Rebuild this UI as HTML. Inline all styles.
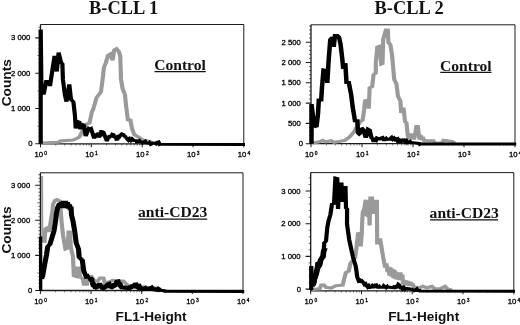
<!DOCTYPE html>
<html><head><meta charset="utf-8"><title>B-CLL flow cytometry</title>
<style>
html,body{margin:0;padding:0;background:#fff;}
svg{display:block;filter:blur(0.35px);}
.tk{font-family:"Liberation Sans",Arial,sans-serif;font-size:7.7px;fill:#000;stroke:#000;stroke-width:0.3px;}
.sup{font-size:4.9px;}
.ttl{font-family:"Liberation Serif","Times New Roman",serif;font-weight:bold;font-size:18.4px;fill:#111;}
.lab{font-family:"Liberation Serif","Times New Roman",serif;font-weight:bold;font-size:15.6px;fill:#111;}
.axl{font-family:"Liberation Sans",Arial,sans-serif;font-weight:bold;font-size:13.4px;fill:#111;}
</style></head><body>
<svg width="520" height="325" viewBox="0 0 520 325">
<rect width="520" height="325" fill="#fff"/>
<path d="M40.5 24.5H243.8V147.3" fill="none" stroke="#1c1c1c" stroke-width="1"/>
<path d="M40.5 24.5V143.8H243.8" fill="none" stroke="#1c1c1c" stroke-width="1.3"/>
<path d="M35.3 37.9H40.5M35.3 73.2H40.5M35.3 108.5H40.5M35.3 143.8H40.5" stroke="#1c1c1c" stroke-width="1.1" fill="none"/>
<path d="M38.5 140.3H40.5M38.5 136.7H40.5M38.5 133.2H40.5M38.5 129.7H40.5M37.5 126.2H40.5M38.5 122.6H40.5M38.5 119.1H40.5M38.5 115.6H40.5M38.5 112.0H40.5M38.5 105.0H40.5M38.5 101.4H40.5M38.5 97.9H40.5M38.5 94.4H40.5M37.5 90.8H40.5M38.5 87.3H40.5M38.5 83.8H40.5M38.5 80.3H40.5M38.5 76.7H40.5M38.5 69.7H40.5M38.5 66.1H40.5M38.5 62.6H40.5M38.5 59.1H40.5M37.5 55.5H40.5M38.5 52.0H40.5M38.5 48.5H40.5M38.5 45.0H40.5M38.5 41.4H40.5M38.5 34.4H40.5M38.5 30.8H40.5M38.5 27.3H40.5" stroke="#1c1c1c" stroke-width="0.8" fill="none" opacity="0.85"/>
<text class="tk" x="30.3" y="40.4" text-anchor="end">3 000</text>
<text class="tk" x="30.3" y="75.7" text-anchor="end">2 000</text>
<text class="tk" x="30.3" y="111.0" text-anchor="end">1 000</text>
<text class="tk" x="30.3" y="146.3" text-anchor="middle">0</text>
<path d="M40.5 143.8V147.3M91.3 143.8V147.3M142.2 143.8V147.3M193.0 143.8V147.3" stroke="#1c1c1c" stroke-width="1" fill="none"/>
<path d="M55.8 143.8V145.6M64.7 143.8V145.6M71.1 143.8V145.6M76.0 143.8V145.6M80.0 143.8V145.6M83.5 143.8V145.6M86.4 143.8V145.6M89.0 143.8V145.6M106.6 143.8V145.6M115.6 143.8V145.6M121.9 143.8V145.6M126.9 143.8V145.6M130.9 143.8V145.6M134.3 143.8V145.6M137.2 143.8V145.6M139.8 143.8V145.6M157.4 143.8V145.6M166.4 143.8V145.6M172.7 143.8V145.6M177.7 143.8V145.6M181.7 143.8V145.6M185.1 143.8V145.6M188.0 143.8V145.6M190.6 143.8V145.6M208.3 143.8V145.6M217.2 143.8V145.6M223.6 143.8V145.6M228.5 143.8V145.6M232.5 143.8V145.6M235.9 143.8V145.6M238.9 143.8V145.6M241.5 143.8V145.6" stroke="#1c1c1c" stroke-width="0.7" fill="none" opacity="0.8"/>
<text class="tk" x="34.4" y="157.0">10<tspan class="sup" dx="1.3" dy="-2.2">0</tspan></text>
<text class="tk" x="85.2" y="157.0">10<tspan class="sup" dx="1.3" dy="-2.2">1</tspan></text>
<text class="tk" x="136.1" y="157.0">10<tspan class="sup" dx="1.3" dy="-2.2">2</tspan></text>
<text class="tk" x="186.9" y="157.0">10<tspan class="sup" dx="1.3" dy="-2.2">3</tspan></text>
<text class="tk" x="237.7" y="157.0">10<tspan class="sup" dx="1.3" dy="-2.2">4</tspan></text>
<polyline transform="scale(1.3,1)" fill="none" stroke="#9a9a9a" stroke-width="3.2" stroke-linejoin="miter" stroke-miterlimit="2" points="31.54,143.0 44.62,142.3 46.92,140.8 56.46,140.0 61.15,137.0 63.54,130.8 65.92,124.6 68.85,123.0 70.62,112.3 71.85,108.6 74.23,97.8 77.69,91.7 78.92,79.4 80.00,67.0 81.31,63.2 83.08,55.5 84.85,54.0 86.62,60.2 87.85,50.2 89.62,48.8 91.38,51.5 92.54,56.3 92.69,64.0 93.08,79.4 94.31,88.6 96.15,94.8 96.69,102.5 97.31,109.2 98.46,120.8 100.23,119.2 101.38,127.7 103.23,134.6 107.31,137.7 109.69,140.0 114.46,141.5 118.00,143.0 123.08,143.5"/>
<polyline transform="scale(1.4,1)" fill="none" stroke="#000" stroke-width="3.0" stroke-linejoin="miter" stroke-miterlimit="2" points="29.07,143.8 29.07,29.5 29.57,86.0 31.14,94.6 33.00,81.5 35.14,81.5 35.71,86.0 37.57,68.6 39.00,56.0 40.57,71.5 41.86,52.5 43.57,62.3 44.57,64.0 44.93,79.4 46.36,94.8 47.50,101.7 49.50,84.3 50.71,99.4 52.43,102.0 53.50,115.0 54.07,128.5 54.29,126.8 54.50,127.3 54.71,124.2 54.93,124.8 55.14,123.0 55.96,121.8 56.79,122.3 56.88,124.2 56.98,123.7 57.07,126.7 57.17,126.3 57.26,128.6 57.36,129.2 57.77,127.0 58.18,127.7 58.59,124.8 59.00,124.6 60.00,125.5 61.21,136.0 63.43,128.5 64.21,129.1 65.00,128.5 67.29,138.5 67.70,136.7 68.11,137.5 68.52,134.9 68.93,134.6 69.48,136.5 70.02,135.2 70.57,137.0 71.00,136.5 71.43,134.2 71.86,134.5 72.29,131.5 72.71,131.5 73.86,132.3 76.07,140.0 76.61,140.0 77.16,137.7 77.70,138.4 78.24,136.2 78.79,136.0 79.52,136.2 80.26,134.3 81.00,134.6 81.44,136.3 81.89,135.8 82.33,138.0 82.77,137.6 83.21,139.2 83.89,139.1 84.57,136.6 85.25,136.9 85.93,135.4 87.04,134.0 88.14,134.6 88.69,136.4 89.23,135.5 89.77,138.0 90.31,137.2 90.86,139.2 91.74,140.4 92.63,138.9 93.51,140.4 94.40,138.9 95.29,140.0 96.11,141.3 96.93,139.7 97.75,141.9 98.57,141.5 99.43,140.7 100.29,142.7 101.14,141.3 102.00,143.0 102.86,142.3 103.65,141.5 104.45,143.7 105.24,142.1 106.04,144.0 106.84,142.8 107.63,144.3 108.43,143.8 109.20,142.5 109.97,144.0 110.74,142.3 111.51,143.5 112.29,142.3 113.19,142.0 114.10,144.5 115.00,144.2 175.00,144.4"/>
<path d="M311.0 24.8H515.0V147.2" fill="none" stroke="#1c1c1c" stroke-width="1"/>
<path d="M311.0 24.8V143.7H515.0" fill="none" stroke="#1c1c1c" stroke-width="1.3"/>
<path d="M305.8 42.2H311.0M305.8 62.5H311.0M305.8 82.8H311.0M305.8 103.1H311.0M305.8 123.4H311.0M305.8 143.7H311.0" stroke="#1c1c1c" stroke-width="1.1" fill="none"/>
<path d="M309.0 139.6H311.0M309.0 135.6H311.0M309.0 131.5H311.0M309.0 127.5H311.0M309.0 119.3H311.0M309.0 115.3H311.0M309.0 111.2H311.0M309.0 107.2H311.0M309.0 99.0H311.0M309.0 95.0H311.0M309.0 90.9H311.0M309.0 86.9H311.0M309.0 78.7H311.0M309.0 74.7H311.0M309.0 70.6H311.0M309.0 66.6H311.0M309.0 58.4H311.0M309.0 54.4H311.0M309.0 50.3H311.0M309.0 46.3H311.0M309.0 38.1H311.0M309.0 34.1H311.0M309.0 30.0H311.0M309.0 26.0H311.0" stroke="#1c1c1c" stroke-width="0.8" fill="none" opacity="0.85"/>
<text class="tk" x="300.8" y="44.7" text-anchor="end">2 500</text>
<text class="tk" x="300.8" y="65.0" text-anchor="end">2 000</text>
<text class="tk" x="300.8" y="85.3" text-anchor="end">1 500</text>
<text class="tk" x="300.8" y="105.6" text-anchor="end">1 000</text>
<text class="tk" x="300.8" y="125.9" text-anchor="end">500</text>
<text class="tk" x="300.8" y="146.2" text-anchor="middle">0</text>
<path d="M311.0 143.7V147.2M362.0 143.7V147.2M413.0 143.7V147.2M464.0 143.7V147.2" stroke="#1c1c1c" stroke-width="1" fill="none"/>
<path d="M326.4 143.7V145.5M335.3 143.7V145.5M341.7 143.7V145.5M346.6 143.7V145.5M350.7 143.7V145.5M354.1 143.7V145.5M357.1 143.7V145.5M359.7 143.7V145.5M377.4 143.7V145.5M386.3 143.7V145.5M392.7 143.7V145.5M397.6 143.7V145.5M401.7 143.7V145.5M405.1 143.7V145.5M408.1 143.7V145.5M410.7 143.7V145.5M428.4 143.7V145.5M437.3 143.7V145.5M443.7 143.7V145.5M448.6 143.7V145.5M452.7 143.7V145.5M456.1 143.7V145.5M459.1 143.7V145.5M461.7 143.7V145.5M479.4 143.7V145.5M488.3 143.7V145.5M494.7 143.7V145.5M499.6 143.7V145.5M503.7 143.7V145.5M507.1 143.7V145.5M510.1 143.7V145.5M512.7 143.7V145.5" stroke="#1c1c1c" stroke-width="0.7" fill="none" opacity="0.8"/>
<text class="tk" x="304.9" y="157.0">10<tspan class="sup" dx="1.3" dy="-2.2">0</tspan></text>
<text class="tk" x="355.9" y="157.0">10<tspan class="sup" dx="1.3" dy="-2.2">1</tspan></text>
<text class="tk" x="406.9" y="157.0">10<tspan class="sup" dx="1.3" dy="-2.2">2</tspan></text>
<text class="tk" x="457.9" y="157.0">10<tspan class="sup" dx="1.3" dy="-2.2">3</tspan></text>
<text class="tk" x="508.9" y="157.0">10<tspan class="sup" dx="1.3" dy="-2.2">4</tspan></text>
<polyline transform="scale(1.3,1)" fill="none" stroke="#9a9a9a" stroke-width="3.2" stroke-linejoin="miter" stroke-miterlimit="2" points="240.00,143.2 246.46,141.5 248.23,140.3 250.62,141.8 254.77,140.8 257.08,142.3 261.85,141.2 265.38,140.3 268.92,137.0 272.46,131.5 274.85,126.0 277.23,121.5 279.00,120.0 280.15,109.2 280.77,101.0 282.54,100.0 283.69,108.6 284.31,87.8 286.31,86.5 287.31,75.0 289.08,73.0 289.08,63.0 290.23,47.0 292.00,46.3 293.23,64.0 294.23,63.5 294.77,39.4 296.77,30.2 298.31,30.2 298.77,42.5 300.31,44.8 301.54,54.8 302.31,65.5 303.23,79.4 305.00,84.0 306.15,96.3 308.00,101.0 308.62,113.0 310.38,107.7 311.54,121.5 312.69,123.0 313.85,137.7 314.62,133.5 315.38,139.5 316.15,133.5 316.92,139.5 317.69,133.8 318.46,139.5 319.38,134.2 320.23,126.5 321.38,126.5 322.15,134.2 322.77,139.5 323.54,135.0 324.31,140.0 325.15,137.0 326.31,140.8 333.46,140.8 334.00,143.0 340.00,143.0 341.15,140.3 347.69,141.5 350.00,143.3"/>
<polyline transform="scale(1.5,1)" fill="none" stroke="#000" stroke-width="3.0" stroke-linejoin="miter" stroke-miterlimit="2" points="207.67,143.7 207.67,104.0 209.00,120.0 209.47,127.0 210.23,126.4 211.00,127.0 212.00,113.8 212.53,100.0 214.13,100.0 214.67,87.0 215.67,70.0 217.33,70.5 218.20,83.0 219.13,59.4 220.20,39.4 221.67,37.3 222.47,47.0 223.33,35.5 224.87,35.5 226.00,37.0 227.00,44.0 228.00,56.3 228.87,69.0 230.20,63.0 231.00,82.5 232.53,82.5 234.13,94.8 235.13,107.0 236.67,120.8 238.20,120.8 238.67,133.0 239.47,134.0 240.27,133.0 240.44,130.8 240.62,131.2 240.80,129.2 241.57,128.8 242.33,130.0 243.87,137.7 245.33,129.2 246.40,130.0 247.47,137.0 247.97,138.7 248.47,138.0 248.97,140.8 249.47,140.8 250.10,139.6 250.73,140.2 251.37,138.1 252.00,138.5 253.07,139.0 254.13,138.0 254.98,137.6 255.82,139.8 256.67,139.8 257.39,138.8 258.11,140.3 258.83,138.4 259.55,139.9 260.27,138.6 261.08,137.6 261.89,139.2 262.71,138.2 263.52,139.6 264.33,138.8 264.84,138.6 265.36,141.4 265.87,141.5 266.73,140.3 267.60,141.3 268.47,140.0 269.28,139.9 270.09,141.6 270.91,140.6 271.72,142.7 272.53,142.3 273.27,141.7 274.01,143.2 274.75,142.0 275.49,143.6 276.23,142.2 276.97,143.6 277.71,142.2 278.45,144.2 279.19,142.5 279.93,144.2 280.67,143.7 344.13,144.0"/>
<path d="M40.4 172.8H243.0V294.0" fill="none" stroke="#1c1c1c" stroke-width="1"/>
<path d="M40.4 172.8V290.5H243.0" fill="none" stroke="#1c1c1c" stroke-width="1.3"/>
<path d="M35.2 185.2H40.4M35.2 220.3H40.4M35.2 255.4H40.4M35.2 290.5H40.4" stroke="#1c1c1c" stroke-width="1.1" fill="none"/>
<path d="M38.4 287.0H40.4M38.4 283.5H40.4M38.4 280.0H40.4M38.4 276.5H40.4M37.4 273.0H40.4M38.4 269.4H40.4M38.4 265.9H40.4M38.4 262.4H40.4M38.4 258.9H40.4M38.4 251.9H40.4M38.4 248.4H40.4M38.4 244.9H40.4M38.4 241.4H40.4M37.4 237.9H40.4M38.4 234.3H40.4M38.4 230.8H40.4M38.4 227.3H40.4M38.4 223.8H40.4M38.4 216.8H40.4M38.4 213.3H40.4M38.4 209.8H40.4M38.4 206.3H40.4M37.4 202.8H40.4M38.4 199.2H40.4M38.4 195.7H40.4M38.4 192.2H40.4M38.4 188.7H40.4M38.4 181.7H40.4M38.4 178.2H40.4M38.4 174.7H40.4" stroke="#1c1c1c" stroke-width="0.8" fill="none" opacity="0.85"/>
<text class="tk" x="30.2" y="187.7" text-anchor="end">3 000</text>
<text class="tk" x="30.2" y="222.8" text-anchor="end">2 000</text>
<text class="tk" x="30.2" y="257.9" text-anchor="end">1 000</text>
<text class="tk" x="30.2" y="293.0" text-anchor="middle">0</text>
<path d="M40.4 290.5V294.0M91.0 290.5V294.0M141.7 290.5V294.0M192.3 290.5V294.0" stroke="#1c1c1c" stroke-width="1" fill="none"/>
<path d="M55.6 290.5V292.3M64.6 290.5V292.3M70.9 290.5V292.3M75.8 290.5V292.3M79.8 290.5V292.3M83.2 290.5V292.3M86.1 290.5V292.3M88.7 290.5V292.3M106.3 290.5V292.3M115.2 290.5V292.3M121.5 290.5V292.3M126.5 290.5V292.3M130.5 290.5V292.3M133.9 290.5V292.3M136.8 290.5V292.3M139.4 290.5V292.3M156.9 290.5V292.3M165.9 290.5V292.3M172.2 290.5V292.3M177.1 290.5V292.3M181.1 290.5V292.3M184.5 290.5V292.3M187.4 290.5V292.3M190.0 290.5V292.3M207.6 290.5V292.3M216.5 290.5V292.3M222.8 290.5V292.3M227.8 290.5V292.3M231.8 290.5V292.3M235.2 290.5V292.3M238.1 290.5V292.3M240.7 290.5V292.3" stroke="#1c1c1c" stroke-width="0.7" fill="none" opacity="0.8"/>
<text class="tk" x="34.3" y="304.0">10<tspan class="sup" dx="1.3" dy="-2.2">0</tspan></text>
<text class="tk" x="85.0" y="304.0">10<tspan class="sup" dx="1.3" dy="-2.2">1</tspan></text>
<text class="tk" x="135.6" y="304.0">10<tspan class="sup" dx="1.3" dy="-2.2">2</tspan></text>
<text class="tk" x="186.2" y="304.0">10<tspan class="sup" dx="1.3" dy="-2.2">3</tspan></text>
<text class="tk" x="236.9" y="304.0">10<tspan class="sup" dx="1.3" dy="-2.2">4</tspan></text>
<polyline transform="scale(1.0,1)" fill="none" stroke="#9a9a9a" stroke-width="2.0" stroke-linejoin="miter" stroke-miterlimit="2" points="42.10,176.0 42.30,239.0"/>
<polyline transform="scale(1.3,1)" fill="none" stroke="#9a9a9a" stroke-width="3.2" stroke-linejoin="miter" stroke-miterlimit="2" points="32.54,238.0 32.92,241.0 34.31,241.2 34.92,229.0 37.31,227.4 37.85,232.0 39.08,221.0 40.23,212.0 40.77,204.3 42.31,200.5 43.85,199.7 45.77,201.0 46.77,212.0 47.31,221.0 48.46,235.0 50.31,249.0 52.08,248.0 52.69,232.0 53.85,232.0 54.46,247.4 56.15,256.6 56.77,275.7 58.62,276.5 59.23,268.0 60.92,268.0 61.54,277.2 63.85,278.8 64.46,284.2 66.92,284.2 67.46,277.2 70.38,276.5 72.77,281.0 75.15,281.0 76.92,278.0 79.54,278.0 80.77,283.4 84.23,281.8 86.62,280.3 91.92,281.0 94.92,281.0 98.46,285.7 106.15,286.5 110.77,287.2 120.38,288.0 123.85,289.5"/>
<polyline transform="scale(1.0,1)" fill="none" stroke="#000" stroke-width="3.3" stroke-linejoin="miter" stroke-miterlimit="2" points="40.60,236.5 40.70,291.0"/>
<polyline transform="scale(1.0,1)" fill="none" stroke="#000" stroke-width="3.6" stroke-linejoin="miter" stroke-miterlimit="2" points="93.00,286.5 96.00,288.0 100.00,286.0 103.40,288.5 108.00,286.0 112.00,287.5 115.00,286.0 118.00,284.0 121.00,287.5 129.00,288.5 135.00,286.0 138.00,288.0 144.00,289.3 150.00,289.0 160.00,290.5"/>
<polyline transform="scale(1.7,1)" fill="none" stroke="#000" stroke-width="3.0" stroke-linejoin="miter" stroke-miterlimit="2" points="24.47,279.0 24.71,277.0 24.94,277.3 25.18,275.0 26.47,262.5 27.35,255.0 28.06,246.6 29.41,244.3 30.76,236.6 31.76,231.0 32.65,221.5 33.24,213.0 33.94,207.4 35.00,203.5 35.59,208.0 36.18,201.8 36.76,208.0 37.35,200.8 37.94,208.0 38.53,201.0 39.12,208.0 39.71,202.2 40.29,208.5 40.88,204.5 41.35,210.0 41.76,206.5 42.06,215.0 42.94,221.0 43.88,230.5 44.82,242.8 46.18,249.0 46.59,257.2 48.41,260.3 49.29,271.0 50.71,276.5 51.33,276.0 51.95,278.1 52.58,277.1 53.20,279.1 53.82,278.8 54.00,279.1 54.18,282.3 54.35,281.9 54.53,284.3 54.71,285.0 55.33,284.7 55.96,287.3 56.59,287.2 57.15,285.5 57.71,286.3 58.26,284.2 58.82,284.2 59.32,286.1 59.82,285.4 60.32,288.1 60.82,288.0 61.36,286.2 61.91,287.0 62.45,285.0 62.99,285.6 63.53,284.0 64.09,283.6 64.65,286.0 65.21,285.2 65.76,286.5 66.39,286.4 67.02,284.3 67.65,284.0 68.24,283.7 68.82,281.2 69.41,281.0 69.76,282.9 70.12,282.5 70.47,285.0 70.82,284.7 71.18,286.5 71.83,287.5 72.49,286.2 73.14,287.7 73.80,286.3 74.45,288.4 75.11,286.9 75.76,288.0 76.37,288.0 76.98,285.6 77.59,287.0 78.20,284.7 78.80,285.4 79.41,284.0 80.00,283.9 80.59,286.6 81.18,286.5 81.88,285.9 82.59,288.2 83.29,286.9 84.00,289.3 84.71,288.8 85.45,287.9 86.19,289.4 86.93,287.3 87.67,289.2 88.41,288.0 89.09,287.4 89.76,289.2 90.44,288.0 91.12,289.4 91.79,287.9 92.47,289.9 93.15,288.7 93.82,289.5 94.47,290.7 95.12,289.3 95.76,291.5 96.41,290.2 97.06,291.3 143.65,291.5"/>
<path d="M310.7 172.6H513.8V294.3" fill="none" stroke="#1c1c1c" stroke-width="1"/>
<path d="M310.7 172.6V290.8H513.8" fill="none" stroke="#1c1c1c" stroke-width="1.3"/>
<path d="M305.5 191.0H310.7M305.5 223.7H310.7M305.5 256.4H310.7M305.5 289.1H310.7" stroke="#1c1c1c" stroke-width="1.1" fill="none"/>
<path d="M308.7 282.6H310.7M308.7 276.0H310.7M308.7 269.5H310.7M308.7 262.9H310.7M308.7 249.9H310.7M308.7 243.3H310.7M308.7 236.8H310.7M308.7 230.2H310.7M308.7 217.2H310.7M308.7 210.6H310.7M308.7 204.1H310.7M308.7 197.5H310.7M308.7 184.5H310.7M308.7 177.9H310.7" stroke="#1c1c1c" stroke-width="0.8" fill="none" opacity="0.85"/>
<text class="tk" x="300.5" y="193.5" text-anchor="end">3 000</text>
<text class="tk" x="300.5" y="226.2" text-anchor="end">2 000</text>
<text class="tk" x="300.5" y="258.9" text-anchor="end">1 000</text>
<text class="tk" x="298.9" y="291.6" text-anchor="middle">0</text>
<path d="M310.7 290.8V294.3M361.5 290.8V294.3M412.2 290.8V294.3M463.0 290.8V294.3" stroke="#1c1c1c" stroke-width="1" fill="none"/>
<path d="M326.0 290.8V292.6M334.9 290.8V292.6M341.3 290.8V292.6M346.2 290.8V292.6M350.2 290.8V292.6M353.6 290.8V292.6M356.6 290.8V292.6M359.2 290.8V292.6M376.8 290.8V292.6M385.7 290.8V292.6M392.0 290.8V292.6M397.0 290.8V292.6M401.0 290.8V292.6M404.4 290.8V292.6M407.3 290.8V292.6M409.9 290.8V292.6M427.5 290.8V292.6M436.5 290.8V292.6M442.8 290.8V292.6M447.7 290.8V292.6M451.8 290.8V292.6M455.2 290.8V292.6M458.1 290.8V292.6M460.7 290.8V292.6M478.3 290.8V292.6M487.3 290.8V292.6M493.6 290.8V292.6M498.5 290.8V292.6M502.5 290.8V292.6M505.9 290.8V292.6M508.9 290.8V292.6M511.5 290.8V292.6" stroke="#1c1c1c" stroke-width="0.7" fill="none" opacity="0.8"/>
<text class="tk" x="304.6" y="304.0">10<tspan class="sup" dx="1.3" dy="-2.2">0</tspan></text>
<text class="tk" x="355.4" y="304.0">10<tspan class="sup" dx="1.3" dy="-2.2">1</tspan></text>
<text class="tk" x="406.1" y="304.0">10<tspan class="sup" dx="1.3" dy="-2.2">2</tspan></text>
<text class="tk" x="456.9" y="304.0">10<tspan class="sup" dx="1.3" dy="-2.2">3</tspan></text>
<text class="tk" x="507.7" y="304.0">10<tspan class="sup" dx="1.3" dy="-2.2">4</tspan></text>
<polyline transform="scale(1.3,1)" fill="none" stroke="#9a9a9a" stroke-width="3.2" stroke-linejoin="miter" stroke-miterlimit="2" points="240.00,289.5 245.85,288.8 247.08,285.0 249.38,285.0 250.62,287.2 254.77,288.0 258.31,285.7 263.62,285.0 264.77,278.8 266.00,272.6 268.31,271.0 269.54,263.4 273.23,257.5 274.23,247.4 275.38,233.8 276.77,233.5 277.54,246.5 278.31,233.0 278.69,219.7 279.08,212.0 280.15,209.0 281.38,199.7 281.77,216.0 282.31,199.7 282.92,217.0 283.54,199.7 284.31,225.5 284.92,196.6 285.54,214.0 286.15,196.6 286.77,214.0 287.38,199.7 288.00,214.0 288.62,199.7 289.23,214.0 289.85,199.7 290.00,216.0 290.15,243.0 291.23,243.0 292.31,238.5 293.38,246.5 294.62,256.4 296.31,267.5 297.31,263.5 298.08,272.0 298.85,267.0 299.62,275.5 300.38,267.5 301.15,276.5 301.92,268.8 302.69,278.0 303.46,270.0 304.23,279.0 304.85,272.0 305.77,279.5 306.54,272.5 307.31,280.0 308.08,272.5 308.77,280.0 309.54,274.5 310.00,284.5 310.77,280.0 311.54,285.5 312.31,280.5 313.08,285.5 313.85,281.0 315.00,285.8 315.77,281.8 316.54,286.0 317.31,283.5 318.15,286.5 319.69,287.0 322.85,287.8 325.15,286.4 328.31,287.8 332.23,286.4 334.54,288.9 338.46,288.9 342.31,286.4 344.62,289.3 347.69,290.0"/>
<polyline transform="scale(1.4,1)" fill="none" stroke="#000" stroke-width="3.0" stroke-linejoin="miter" stroke-miterlimit="2" points="222.29,290.0 222.29,266.0 223.36,286.5 223.71,284.8 224.07,285.4 224.43,283.4 226.07,271.0 226.64,263.4 229.14,262.5 229.64,257.5 231.07,256.5 231.57,243.0 232.86,241.0 233.79,227.4 234.64,221.0 235.93,215.0 237.14,204.3 238.57,203.5 239.57,178.0 240.93,178.5 241.43,209.0 242.50,184.0 243.93,184.0 244.29,202.0 245.36,187.5 246.79,187.5 247.14,208.0 247.93,209.0 247.86,224.0 249.43,239.7 250.86,249.0 252.14,257.0 254.14,266.5 255.21,277.2 256.29,281.0 257.13,280.4 257.96,282.5 258.80,281.4 259.64,282.6 260.36,284.4 261.07,283.8 261.79,285.7 262.62,287.1 263.46,285.8 264.30,287.4 265.14,287.2 266.05,285.5 266.95,286.5 267.86,285.0 268.57,284.8 269.29,287.0 270.00,287.2 270.83,286.4 271.67,288.1 272.50,286.4 273.33,288.1 274.17,286.0 275.00,287.0 275.79,287.7 276.59,286.6 277.38,288.1 278.17,286.3 278.97,288.2 279.76,286.9 280.56,288.4 281.35,287.1 282.14,287.8 282.75,287.6 283.36,285.3 283.96,286.1 284.57,284.4 285.05,284.9 285.52,287.3 286.00,287.8 286.84,287.3 287.67,288.9 288.51,287.6 289.34,289.0 290.18,287.6 291.01,289.6 291.85,288.0 292.68,289.7 293.52,288.2 294.35,290.4 295.19,289.0 296.02,290.5 296.86,289.9 297.64,289.2 298.43,291.4 299.21,289.7 300.00,291.0 367.86,291.2"/>
<polyline transform="scale(1.4,1)" fill="none" stroke="#000" stroke-width="4.0" stroke-linejoin="miter" stroke-miterlimit="2" points="223.79,284.0 224.71,278.5 225.86,274.0 226.86,268.0 228.29,265.2 229.00,260.0 230.64,257.0 231.14,251.5 232.14,248.0"/>

<text class="ttl" x="89.1" y="14">B-CLL 1</text>
<text class="ttl" x="374.6" y="14">B-CLL 2</text>
<text class="lab" x="154.2" y="69.8">Control</text>
<path d="M154.5 71.6H205.8" stroke="#111" stroke-width="1.2"/>
<text class="lab" x="440" y="70.6">Control</text>
<path d="M440.3 72.3H491.5" stroke="#111" stroke-width="1.2"/>
<text class="lab" x="138" y="217.3">anti-CD23</text>
<path d="M138.4 219.2H207.2" stroke="#111" stroke-width="1.2"/>
<text class="lab" x="429.6" y="218.1">anti-CD23</text>
<path d="M430 219.9H498" stroke="#111" stroke-width="1.2"/>
<text class="axl" style="font-size:13.6px" x="115.6" y="320.6">FL1-Height</text>
<text class="axl" style="font-size:13.6px" x="388.2" y="320.9">FL1-Height</text>
<text class="axl" style="font-size:13.7px" transform="translate(11.3,106.3) rotate(-90)">Counts</text>
<text class="axl" style="font-size:13.7px" transform="translate(11.3,253.6) rotate(-90)">Counts</text>

</svg>
</body></html>
